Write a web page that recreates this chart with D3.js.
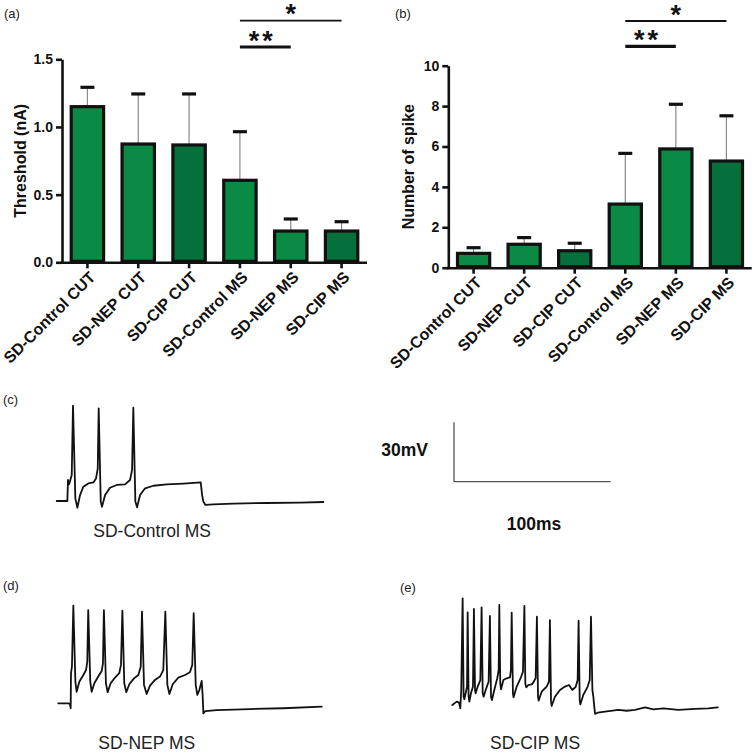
<!DOCTYPE html>
<html>
<head>
<meta charset="utf-8">
<script src="https://cdn.jsdelivr.net/npm/d3@7"></script>
<style>
  html, body { margin: 0; padding: 0; background: #fff; }
  svg { display: block; }
  text { font-family: "Liberation Sans", Arial, Helvetica, sans-serif; }
</style>
</head>
<body>
<svg id="chart" width="755" height="753"></svg>
<script>
// ---------------- DATA ----------------
const categories = ["SD-Control CUT", "SD-NEP CUT", "SD-CIP CUT", "SD-Control MS", "SD-NEP MS", "SD-CIP MS"];
const thresholdMean = [1.15, 0.874, 0.867, 0.606, 0.231, 0.231];
const thresholdErr  = [0.143, 0.37, 0.377, 0.359, 0.089, 0.069];
const spikeMean = [0.71, 1.16, 0.84, 3.15, 5.88, 5.28];
const spikeErr  = [0.28, 0.33, 0.37, 2.51, 2.21, 2.24];
const thresholdTicks = [0, 0.5, 1.0, 1.5];
const spikeTicks = [0, 2, 4, 6, 8, 10];
// significance comparisons: [fromIndex, toIndex, label]
const sigPairs = [[3, 5, "*"], [3, 4, "**"]];

// recorded traces: [time ms, membrane potential mV]
const traceControl = [
  [0,-65],[6.4,-65],[6.8,-65],[7.2,-54.4],[7.9,-56.6],[9.6,-51.9],[10.4,-16.9],[11.9,-63.7],[13.2,-68.4],
  [14.9,-62.0],[17.0,-57.8],[20.2,-56.1],[23.4,-55.6],[25.1,-53.6],[26.2,-48.5],[26.8,-18.2],[28.1,-65.3],
  [28.9,-67.9],[30.9,-62.0],[34.0,-58.3],[38.3,-56.9],[43.6,-56.6],[46.8,-54.4],[48.1,-49.3],[48.9,-17.9],
  [50.2,-65.3],[51.3,-68.2],[53.2,-62.0],[56.4,-58.6],[61.7,-57.3],[70.2,-56.6],[80.9,-56.2],[91.9,-55.6],
  [92.8,-62.0],[93.6,-65.3],[94.9,-67.0],[100.0,-66.7],[112.8,-66.3],[134.0,-66.0],[155.3,-65.8],[170.2,-65.5]
];
const traceNEP = [
  [0,-65],[6.4,-65],[7.4,-65.3],[7.9,-67.5],[8.1,-49.8],[8.7,-46.5],[9.6,-15.7],[10.9,-54.1],[11.7,-59.2],
  [13.4,-54.1],[16.0,-50.7],[17.7,-48.2],[18.5,-44.0],[19.1,-17.9],[20.4,-54.1],[21.3,-59.2],[23.0,-54.9],
  [25.5,-51.5],[27.7,-48.7],[28.5,-44.8],[29.1,-17.9],[30.4,-54.9],[31.5,-59.4],[33.4,-54.9],[36.2,-52.0],
  [38.9,-49.8],[40.0,-45.6],[40.9,-18.2],[42.1,-54.9],[43.4,-59.4],[45.3,-55.4],[48.3,-52.4],[51.1,-50.7],
  [52.6,-46.5],[53.4,-18.7],[54.7,-55.7],[56.4,-60.3],[58.5,-56.1],[61.7,-53.2],[64.9,-51.5],[67.0,-48.2],
  [68.3,-18.7],[69.6,-55.7],[70.9,-60.3],[73.0,-55.4],[76.6,-52.0],[80.9,-50.7],[84.0,-49.3],[85.5,-45.6],
  [86.4,-19.5],[87.7,-55.7],[88.7,-60.8],[90.0,-58.3],[91.5,-53.7],[92.1,-60.8],[92.6,-70.1],[93.8,-68.9],
  [101.1,-68.4],[122.3,-67.9],[143.6,-67.5],[168.1,-66.7]
];
const traceCIP = [
  [0,-65],[2.8,-63.3],[4.3,-63.8],[5.1,-66.7],[5.7,-57.4],[6.6,-11.1],[7.2,-60.8],[7.7,-62.1],[8.7,-58.3],
  [9.4,-55.7],[9.8,-18.2],[10.4,-60.8],[10.9,-63.3],[11.9,-59.1],[13.2,-55.7],[13.8,-16.5],[14.5,-57.4],
  [14.9,-59.1],[16.2,-55.7],[17.9,-52.4],[18.7,-15.7],[19.4,-59.1],[20.0,-60.8],[21.3,-57.4],[23.2,-53.2],
  [24.0,-20.0],[24.7,-60.8],[25.3,-62.5],[26.8,-57.4],[28.7,-51.5],[29.6,-47.3],[30.0,-14.5],[30.6,-54.1],
  [31.1,-57.1],[32.6,-52.4],[34.7,-51.5],[36.8,-51.0],[37.4,-47.3],[37.9,-18.4],[38.7,-59.1],[39.1,-61.1],
  [41.1,-55.7],[43.8,-51.0],[45.1,-48.2],[46.0,-15.0],[46.6,-54.1],[47.2,-56.1],[48.5,-54.9],[51.1,-54.4],
  [53.2,-51.5],[54.0,-20.4],[54.7,-60.8],[55.1,-62.8],[57.0,-58.3],[60.2,-55.7],[61.7,-53.2],[62.3,-22.1],
  [63.0,-63.3],[63.4,-65.5],[65.5,-60.8],[68.7,-57.4],[71.9,-55.7],[74.5,-54.9],[76.6,-57.4],[78.7,-55.9],
  [80.0,-52.4],[80.6,-22.4],[81.3,-62.5],[81.7,-64.7],[83.6,-59.9],[86.4,-55.7],[87.7,-52.4],[88.5,-20.4],
  [89.4,-57.4],[90.0,-60.8],[90.4,-64.2],[91.1,-69.5],[92.8,-68.9],[97.4,-68.4],[106.0,-67.5],[111.3,-67.9],
  [116.6,-67.5],[123.0,-66.2],[128.3,-67.2],[134.7,-66.7],[144.3,-67.5],[154.9,-67.0],[163.4,-66.7],[169.4,-66.2]
];
const scaleBarTime = 100; // ms
const scaleBarVolt = 30;  // mV

// ---------------- DRAWING ----------------
const svg = d3.select("#chart");
svg.append("rect").attr("width", 755).attr("height", 753).attr("fill", "#fff");

const lightGreen = "#0a8a45";
const darkGreen = "#06703c";
const colorFor = (c) => c.indexOf("CIP") >= 0 ? darkGreen : lightGreen;

function barPanel(cfg) {
  const g = svg.append("g");
  const x = d3.scaleBand().domain(categories).range([cfg.left, cfg.right])
    .paddingInner(0.3).paddingOuter(0.15);
  const y = d3.scaleLinear().domain(cfg.domain).range([cfg.bottom, cfg.top]);
  const bw = x.bandwidth();

  // error bars (upper only)
  categories.forEach((c, i) => {
    const cx = x(c) + bw / 2;
    const top = cfg.means[i] + cfg.errs[i];
    g.append("line").attr("x1", cx).attr("x2", cx)
      .attr("y1", y(cfg.means[i])).attr("y2", y(top))
      .attr("stroke", "#8a8a8a").attr("stroke-width", 1.2);
    g.append("line").attr("x1", cx - 7).attr("x2", cx + 7)
      .attr("y1", y(top)).attr("y2", y(top))
      .attr("stroke", "#111").attr("stroke-width", 3.2);
  });

  // bars
  g.selectAll("rect.bar").data(categories).enter().append("rect")
    .attr("class", "bar")
    .attr("x", (c) => x(c) + 1.6)
    .attr("width", bw - 3.2)
    .attr("y", (c, i) => y(cfg.means[i]))
    .attr("height", (c, i) => y(0) - y(cfg.means[i]) - 1)
    .attr("fill", (c) => colorFor(c))
    .attr("stroke", "#111").attr("stroke-width", 3.2);

  // y axis
  const ya = g.append("g").attr("transform", `translate(${cfg.left},0)`)
    .call(d3.axisLeft(y).tickValues(cfg.ticks).tickFormat(cfg.fmt).tickSize(6).tickSizeOuter(0).tickPadding(3));
  ya.select(".domain").attr("stroke", "#111").attr("stroke-width", 2.6);
  ya.selectAll(".tick line").attr("stroke", "#111").attr("stroke-width", 2.6);
  ya.selectAll(".tick text").attr("font-size", 14).attr("font-weight", "bold").attr("fill", "#111")
    .attr("font-family", '"Liberation Sans", Arial, sans-serif');

  // x axis
  const xa = g.append("g").attr("transform", `translate(0,${cfg.bottom})`)
    .call(d3.axisBottom(x).tickSize(6).tickSizeOuter(0).tickFormat(""));
  xa.select(".domain").attr("stroke", "#111").attr("stroke-width", 2.6)
    .attr("d", `M${cfg.left - 1.3},0.5H${cfg.right}`);
  xa.selectAll(".tick line").attr("stroke", "#111").attr("stroke-width", 2.6);

  categories.forEach((c) => {
    g.append("text")
      .attr("transform", `translate(${x(c) + bw / 2 + 5},${cfg.bottom + 12}) rotate(-45)`)
      .attr("text-anchor", "end").attr("dy", "0.35em")
      .attr("font-size", 16).attr("font-weight", "bold").attr("fill", "#111")
      .text(c);
  });

  // y title
  g.append("text")
    .attr("transform", `translate(${cfg.titleX},${(cfg.top + cfg.bottom) / 2}) rotate(-90)`)
    .attr("text-anchor", "middle").attr("dy", "0.35em")
    .attr("font-size", 16).attr("font-weight", "bold").attr("fill", "#111")
    .text(cfg.title);

  // panel label
  g.append("text").attr("x", cfg.labelX).attr("y", 18)
    .attr("font-size", 13).attr("fill", "#222").text(cfg.label);

  // significance
  sigPairs.forEach(([a, b, lab]) => {
    const x1 = x(categories[a]) + bw / 2, x2 = x(categories[b]) + bw / 2;
    const two = lab.length > 1;
    const ly = two ? cfg.sigY2 : cfg.sigY1;
    g.append("line").attr("x1", x1).attr("x2", x2).attr("y1", ly).attr("y2", ly)
      .attr("stroke", "#111").attr("stroke-width", two ? 3.2 : 1.8);
    g.append("text").attr("x", (x1 + x2) / 2 - (two ? 3 : 0)).attr("y", ly + 2.5)
      .attr("text-anchor", "middle").attr("font-size", 27).attr("font-weight", "bold")
      .attr("letter-spacing", two ? 3 : 0).attr("fill", "#111")
      .text(lab);
  });
}

barPanel({
  left: 62, right: 367, top: 59.3, bottom: 262.3, domain: [0, 1.5],
  means: thresholdMean, errs: thresholdErr, ticks: thresholdTicks, fmt: d3.format(".1f"),
  title: "Threshold (nA)", titleX: 20, label: "(a)", labelX: 4, sigY1: 20.7, sigY2: 47
});
barPanel({
  left: 448.3, right: 751.7, top: 65.7, bottom: 267.7, domain: [0, 10],
  means: spikeMean, errs: spikeErr, ticks: spikeTicks, fmt: d3.format("d"),
  title: "Number of spike", titleX: 408, label: "(b)", labelX: 395, sigY1: 21, sigY2: 46.3
});

// ---------------- TRACES ----------------
const pxPerMs = 1.567, pxPerMv = 1.98;
function tracePanel(data, ox, baseY, name, nameX, nameY, label, lx, ly) {
  const tx = d3.scaleLinear().domain([0, 100]).range([ox, ox + 100 * pxPerMs]);
  const vy = d3.scaleLinear().domain([-65, -35]).range([baseY, baseY - 30 * pxPerMv]);
  const line = d3.line().x((d) => tx(d[0])).y((d) => vy(d[1]));
  svg.append("path").datum(data).attr("d", line)
    .attr("fill", "none").attr("stroke", "#111").attr("stroke-width", 1.8)
    .attr("stroke-linejoin", "round").attr("stroke-linecap", "round");
  svg.append("text").attr("x", nameX).attr("y", nameY)
    .attr("font-size", 17.5).attr("fill", "#222").text(name);
  svg.append("text").attr("x", lx).attr("y", ly)
    .attr("font-size", 13).attr("fill", "#222").text(label);
}
tracePanel(traceControl, 56.7, 501, "SD-Control MS", 93.3, 536.7, "(c)", 3, 404);
tracePanel(traceNEP, 58.3, 703.3, "SD-NEP MS", 98.3, 749.3, "(d)", 3, 590);
tracePanel(traceCIP, 452.3, 705, "SD-CIP MS", 490, 749.3, "(e)", 400, 592);

// scale bar
const sbx = d3.scaleLinear().domain([0, scaleBarTime]).range([454, 454 + scaleBarTime * pxPerMs]);
const sby = d3.scaleLinear().domain([0, scaleBarVolt]).range([481.7, 481.7 - scaleBarVolt * pxPerMv]);
svg.append("path")
  .attr("d", `M${sbx(0)},${sby(scaleBarVolt)}V${sby(0)}H${sbx(scaleBarTime)}`)
  .attr("fill", "none").attr("stroke", "#555").attr("stroke-width", 1.3);
svg.append("text").attr("x", 428).attr("y", 455.5).attr("text-anchor", "end")
  .attr("font-size", 17.5).attr("font-weight", "bold").attr("fill", "#111").text(scaleBarVolt + "mV");
svg.append("text").attr("x", 534).attr("y", 530).attr("text-anchor", "middle")
  .attr("font-size", 17.5).attr("font-weight", "bold").attr("fill", "#111").text(scaleBarTime + "ms");
</script>
</body>
</html>
